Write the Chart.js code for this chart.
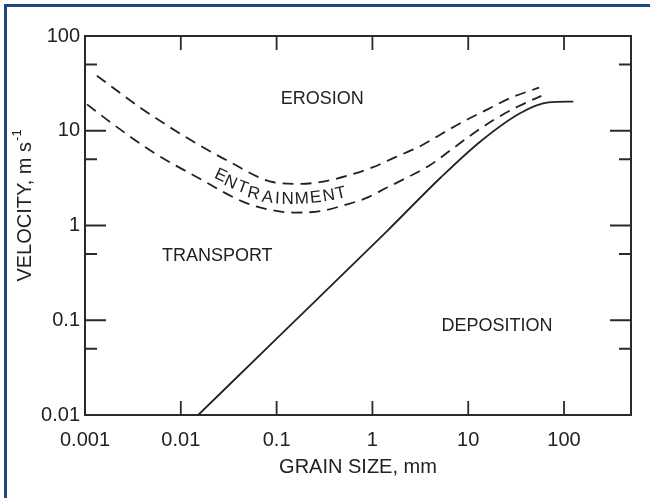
<!DOCTYPE html>
<html>
<head>
<meta charset="utf-8">
<script src="https://cdn.jsdelivr.net/npm/chart.js@4.4.1/dist/chart.umd.min.js"></script>
<style>
  html, body { margin: 0; padding: 0; background: #fff; overflow: hidden; }
  #wrap { position: relative; width: 650px; height: 498px; }
  #frame { position: absolute; left: 4px; top: 4px; width: 700px; height: 600px; border: 3px solid #1d4a86; pointer-events: none; }
</style>
</head>
<body>
<div id="wrap">
  <canvas id="hjulstrom" width="650" height="498"></canvas>
  <div id="frame"></div>
</div>
<script>
// axis ticks
const xTickValues = [0.001, 0.01, 0.1, 1, 10, 100];
const xTickLabels = ['0.001', '0.01', '0.1', '1', '10', '100'];
const yTickValues = [0.01, 0.1, 1, 10, 100];
const yTickLabels = ['0.01', '0.1', '1', '10', '100'];
const yMinorTicks = [0.05, 0.5, 5, 50];

// deposition boundary (solid line), grain size mm / velocity m/s
const depositionSize = [0.0152, 0.1, 1.44, 5.2, 13.7, 35.9, 68.9, 125];
const depositionVelocity = [0.01, 0.064, 0.885, 3.23, 7.85, 15.6, 19.9, 20.3];

// upper edge of the entrainment band (dashed)
const erosionSize = [0.00133, 0.00398, 0.0107, 0.0317, 0.0937, 0.178, 0.318, 0.55, 1.0, 1.69, 3.22, 5.2, 9.15, 16.1, 28.2, 55];
const erosionVelocity = [38, 16.9, 8.85, 4.75, 2.86, 2.75, 2.93, 3.36, 4.1, 5.2, 6.95, 9.2, 12.7, 16.9, 22.4, 28.5];

// lower edge of the entrainment band (dashed)
const entrainSize = [0.00105, 0.00186, 0.00519, 0.0148, 0.0437, 0.0767, 0.152, 0.289, 0.528, 0.82, 1.44, 2.33, 3.94, 6.64, 11.2, 18.9, 33, 58];
const entrainVelocity = [19, 12.2, 5.9, 3.23, 1.80, 1.50, 1.37, 1.42, 1.66, 1.91, 2.53, 3.23, 4.3, 6.3, 9.3, 13.2, 18, 23.3];

// region names, anchored in data space
const regionLabels = ['EROSION', 'TRANSPORT', 'DEPOSITION'];
const regionSize = [0.3, 0.024, 20];
const regionVelocity = [21.7, 0.48, 0.086];

// the curved ENTRAINMENT word, one anchor per letter
const bandLetters = 'ENTRAINMENT'.split('');
const bandSize = [0.026, 0.033, 0.044, 0.0574, 0.0805, 0.102, 0.130, 0.183, 0.256, 0.351, 0.468];
const bandVelocity = [3.36, 2.84, 2.51, 2.17, 1.97, 1.92, 1.88, 1.91, 1.96, 2.05, 2.18];

const INK = '#222';
const FONT = '"Liberation Sans", Arial, sans-serif';
const bandTilt = [25, 24, 20, 14, 8, 3, 0, -3, -6, -9, -13];

function toPoints(xs, ys) {
  return xs.map((v, i) => ({ x: v, y: ys[i] }));
}

const frameAndLabels = {
  id: 'frameAndLabels',
  afterDatasetsDraw(chart) {
    const { ctx, chartArea: a, scales: { x, y } } = chart;
    ctx.save();

    // box round the plot
    ctx.strokeStyle = '#2a2a2a';
    ctx.lineWidth = 2;
    ctx.strokeRect(a.left, a.top, a.right - a.left, a.bottom - a.top);

    // inward ticks on all four sides
    ctx.lineWidth = 1.8;
    ctx.beginPath();
    xTickValues.forEach(v => {
      const px = x.getPixelForValue(v);
      if (px < a.left + 2 || px > a.right - 2) return;
      ctx.moveTo(px, a.bottom); ctx.lineTo(px, a.bottom - 14);
      ctx.moveTo(px, a.top); ctx.lineTo(px, a.top + 14);
    });
    yTickValues.forEach(v => {
      const py = y.getPixelForValue(v);
      if (py < a.top + 2 || py > a.bottom - 2) return;
      ctx.moveTo(a.left, py); ctx.lineTo(a.left + 21, py);
      ctx.moveTo(a.right, py); ctx.lineTo(a.right - 21, py);
    });
    yMinorTicks.forEach(v => {
      const py = y.getPixelForValue(v);
      ctx.moveTo(a.left, py); ctx.lineTo(a.left + 12, py);
      ctx.moveTo(a.right, py); ctx.lineTo(a.right - 12, py);
    });
    ctx.stroke();

    // region names
    ctx.fillStyle = INK;
    ctx.textAlign = 'center';
    ctx.textBaseline = 'middle';
    ctx.font = '18px ' + FONT;
    regionLabels.forEach((t, i) => {
      ctx.fillText(t, x.getPixelForValue(regionSize[i]), y.getPixelForValue(regionVelocity[i]));
    });

    // ENTRAINMENT, letter by letter along the band
    ctx.font = '17px ' + FONT;
    bandLetters.forEach((ch, i) => {
      ctx.save();
      ctx.translate(x.getPixelForValue(bandSize[i]), y.getPixelForValue(bandVelocity[i]));
      ctx.rotate(bandTilt[i] * Math.PI / 180);
      ctx.fillText(ch, 0, 0);
      ctx.restore();
    });

    // y axis title with superscript
    ctx.save();
    ctx.translate(25, 206);
    ctx.rotate(-Math.PI / 2);
    ctx.font = '20px ' + FONT;
    const main = 'VELOCITY, m s';
    const wMain = ctx.measureText(main).width;
    ctx.font = '13px ' + FONT;
    const sup = '-1';
    const wSup = ctx.measureText(sup).width;
    const start = -(wMain + wSup) / 2;
    ctx.textAlign = 'left';
    ctx.font = '20px ' + FONT;
    ctx.fillText(main, start, 0);
    ctx.font = '13px ' + FONT;
    ctx.fillText(sup, start + wMain + 1, -8);
    ctx.restore();

    ctx.restore();
  }
};

new Chart(document.getElementById('hjulstrom'), {
  type: 'scatter',
  data: {
    datasets: [
      {
        label: 'Deposition',
        data: toPoints(depositionSize, depositionVelocity),
        borderColor: INK,
        borderWidth: 1.8,
        showLine: true,
        pointRadius: 0,
        cubicInterpolationMode: 'monotone'
      },
      {
        label: 'Erosion',
        data: toPoints(erosionSize, erosionVelocity),
        borderColor: INK,
        borderWidth: 1.8,
        borderDash: [11, 7],
        showLine: true,
        pointRadius: 0,
        cubicInterpolationMode: 'monotone'
      },
      {
        label: 'Entrainment',
        data: toPoints(entrainSize, entrainVelocity),
        borderColor: INK,
        borderWidth: 1.8,
        borderDash: [11, 7],
        showLine: true,
        pointRadius: 0,
        cubicInterpolationMode: 'monotone'
      }
    ]
  },
  options: {
    responsive: false,
    animation: false,
    events: [],
    layout: { padding: { top: 36, right: 19, left: 0, bottom: 0 } },
    plugins: {
      legend: { display: false },
      tooltip: { enabled: false }
    },
    scales: {
      x: {
        type: 'logarithmic',
        min: 0.001,
        max: 500,
        afterBuildTicks: scale => { scale.ticks = xTickValues.map(v => ({ value: v })); },
        afterFit: scale => { scale.height = 83; },
        grid: { display: false, drawTicks: false },
        border: { display: false },
        ticks: {
          autoSkip: false,
          maxRotation: 0,
          padding: 13,
          color: INK,
          font: { family: FONT, size: 20 },
          callback: (v, i) => xTickLabels[i]
        },
        title: {
          display: true,
          text: 'GRAIN SIZE, mm',
          color: INK,
          font: { family: FONT, size: 20 },
          padding: { top: 0, bottom: 19 }
        }
      },
      y: {
        type: 'logarithmic',
        min: 0.01,
        max: 100,
        afterBuildTicks: scale => { scale.ticks = yTickValues.map(v => ({ value: v })); },
        afterFit: scale => { scale.width = 85; },
        grid: { display: false, drawTicks: false },
        border: { display: false },
        ticks: {
          autoSkip: false,
          padding: 5,
          color: INK,
          font: { family: FONT, size: 20 },
          callback: (v, i) => yTickLabels[i]
        }
      }
    }
  },
  plugins: [frameAndLabels]
});
</script>
</body>
</html>
